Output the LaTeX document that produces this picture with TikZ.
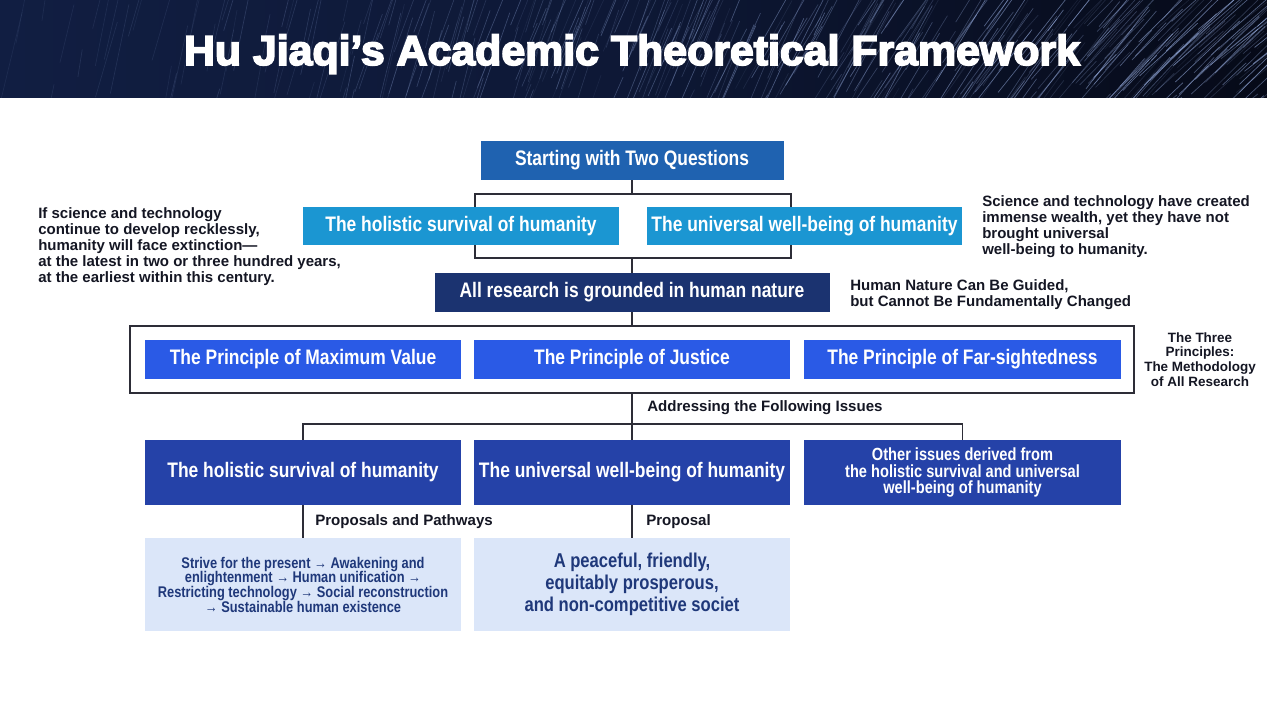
\documentclass[tikz,border=0pt]{standalone}
\usepackage{fontspec}
\setmainfont{Liberation Sans}
\newfontfamily\condf[FakeStretch=0.83]{Liberation Sans}
\newfontfamily\titlef[FakeStretch=1.02,FakeBold=4]{Liberation Sans}
\usetikzlibrary{calc}
\definecolor{cStart}{RGB}{31,98,176}
\definecolor{cLight}{RGB}{27,150,210}
\definecolor{cNavy}{RGB}{27,51,112}
\definecolor{cPrin}{RGB}{42,90,230}
\definecolor{cIssue}{RGB}{37,66,168}
\definecolor{cPale}{RGB}{219,230,249}
\definecolor{cPaleTxt}{RGB}{31,56,122}
\definecolor{cTxt}{RGB}{20,22,35}
\definecolor{cLine}{RGB}{45,45,55}
\definecolor{hdrL}{RGB}{17,30,66}
\definecolor{hdrR}{RGB}{6,10,24}
\definecolor{streak}{RGB}{175,200,255}
\tikzset{
  pxw/.style={minimum width={#1*0.75pt}},
  pxh/.style={minimum height={#1*0.75pt}},
  box/.style={inner sep=0pt, draw=none, text=white, align=center,
    font={\condf\bfseries\fontsize{15.75}{18}\selectfont}},
  pale/.style={inner sep=0pt, draw=none, fill=cPale, text=cPaleTxt, align=center},
  frame/.style={inner sep=0pt, draw=cLine, line width=0.9pt},
  conn/.style={draw=cLine, line width=0.9pt},
  lbl/.style={inner sep=0pt, text=cTxt, font={\bfseries\fontsize{11.3}{13}\selectfont}},
  note/.style={inner sep=0pt, text=cTxt, align=left, font={\bfseries\fontsize{11.25}{12}\selectfont}},
  titletxt/.style={inner sep=0pt, text=white, font={\titlef\bfseries\fontsize{31.5}{36}\selectfont}}
}
\begin{document}
\begin{tikzpicture}[x=0.75pt,y=-0.75pt]
\useasboundingbox (0,0) rectangle (1267,713);
\fill[white] (0,0) rectangle (1267,713);
% header band
\shade[left color=hdrL, right color=hdrR, middle color=hdrL!70!hdrR] (0,0) rectangle (1267,98);
\begin{scope}
\clip (0,0) rectangle (1267,98);
\pgfmathsetseed{42}
\foreach \i in {1,...,460}{
  \pgfmathsetmacro{\u}{rnd^0.6}
  \pgfmathsetmacro{\xa}{1340*\u-60}
  \pgfmathsetmacro{\ya}{20+110*rnd}
  \pgfmathsetmacro{\len}{25+80*rnd}
  \pgfmathsetmacro{\ang}{-(74-40*\u*\u+8*rnd)}
  \pgfmathsetmacro{\op}{0.07+0.5*\u*rnd}
  \draw[streak, opacity=\op, line width=0.5pt] (\xa,\ya) -- ++(\ang:\len);
}
\end{scope}
\node[titletxt, anchor=base] (title) at (632,65) {Hu Jiaqi’s Academic Theoretical Framework};

% boxes
\node[box, fill=cStart, pxw=303, pxh=39] (start) at (632,160.5) {Starting with Two Questions};
\node[box, fill=cLight, pxw=316, pxh=38] (q1) at (461,226) {The holistic survival of humanity};
\node[box, fill=cLight, pxw=315, pxh=38] (q2) at (804.5,226) {The universal well-being of humanity};
\node[box, fill=cNavy, pxw=395, pxh=39] (nature) at (632,292.5) {All research is grounded in human nature};
\node[frame, pxw=1004, pxh=67] (three) at (632,359.5) {};
\node[box, fill=cPrin, pxw=316, pxh=39] (p1) at (303,359.5) {The Principle of Maximum Value};
\node[box, fill=cPrin, pxw=316, pxh=39] (p2) at (632,359.5) {The Principle of Justice};
\node[box, fill=cPrin, pxw=317, pxh=39] (p3) at (962.5,359.5) {The Principle of Far-sightedness};
\node[box, fill=cIssue, pxw=316, pxh=65] (i1) at (303,472.5) {The holistic survival of humanity};
\node[box, fill=cIssue, pxw=316, pxh=65] (i2) at (632,472.5) {The universal well-being of humanity};
\node[box, fill=cIssue, pxw=317, pxh=65, font={\condf\bfseries\fontsize{13.2}{12.2}\selectfont}] (i3) at (962.5,472.5)
  {Other issues derived from\\the holistic survival and universal\\well-being of humanity};
\node[pale, pxw=316, pxh=93, font={\condf\bfseries\fontsize{11.6}{11}\selectfont}] (l1) at (303,584.5)
  {Strive for the present → Awakening and\\enlightenment → Human unification →\\Restricting technology → Social reconstruction\\→ Sustainable human existence};
\node[pale, pxw=316, pxh=93, font={\condf\bfseries\fontsize{15}{16.5}\selectfont}] (l2) at (632,584.5)
  {A peaceful, friendly,\\equitably prosperous,\\and non-competitive societ};

% connectors
\coordinate (j1) at (632,194);
\coordinate (j1l) at (475,194);
\coordinate (j1r) at (791,194);
\coordinate (j2) at (632,258);
\coordinate (j2l) at (475,258);
\coordinate (j2r) at (791,258);
\coordinate (j3) at (632,424);
\draw[conn] (start.south) -- (j1);
\draw[conn] (j1l |- q1.north) -- (j1l) -- (j1r) -- (j1r |- q2.north);
\draw[conn] (j2l |- q1.south) -- (j2l) -- (j2r) -- (j2r |- q2.south);
\draw[conn] (j2) -- (nature.north);
\draw[conn] (nature.south) -- (three.north);
\draw[conn] (three.south) -- (j3);
\draw[conn] (i1.north) |- (j3) -| (i3.north);
\draw[conn] (j3) -- (i2.north);
\draw[conn] (i1.south) -- (l1.north);
\draw[conn] (i2.south) -- (l2.north);

% labels
\node[lbl, anchor=west] (addr) at (647,408) {Addressing the Following Issues};
\node[lbl, anchor=west] (pp) at (315,522) {Proposals and Pathways};
\node[lbl, anchor=west] (pr) at (646,522) {Proposal};

% side notes
\node[note, anchor=north west] (nl) at (38,207)
  {If science and technology\\continue to develop recklessly,\\humanity will face extinction—\\at the latest in two or three hundred years,\\at the earliest within this century.};
\node[note, anchor=north west] (nr) at (982,195)
  {Science and technology have created\\immense wealth, yet they have not\\brought universal\\well-being to humanity.};
\node[note, anchor=north west] (nh) at (850,279)
  {Human Nature Can Be Guided,\\but Cannot Be Fundamentally Changed};
\node[note, anchor=north, align=center, font={\bfseries\fontsize{10.1}{11}\selectfont}] (nt) at (1200,332)
  {The Three\\Principles:\\The Methodology\\of All Research};
\end{tikzpicture}
\end{document}
